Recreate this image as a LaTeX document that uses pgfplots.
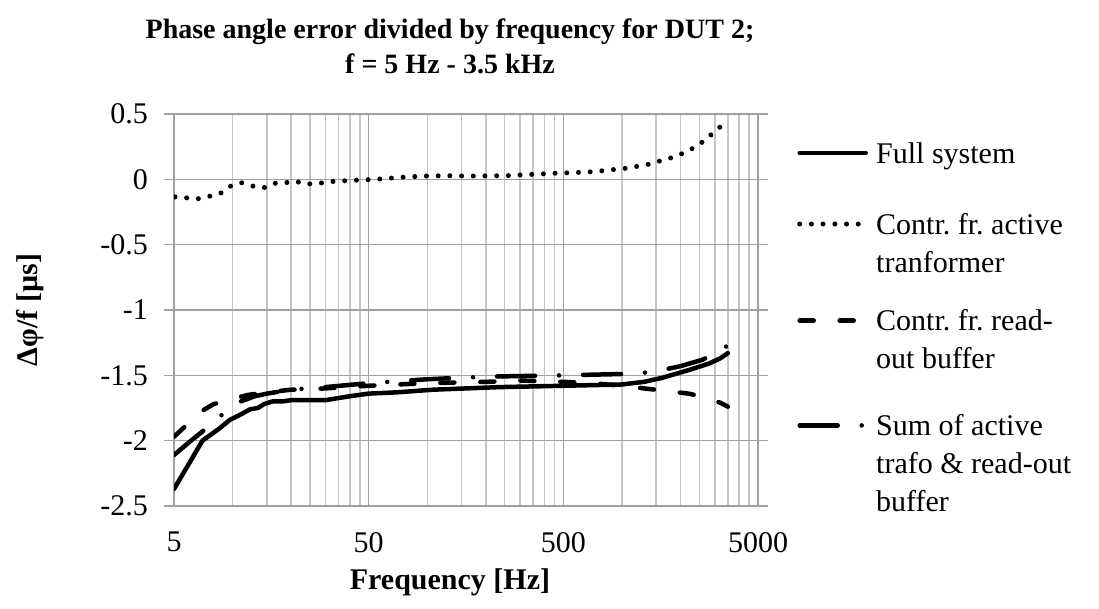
\documentclass[border=0pt]{standalone}
\usepackage{pgfplots}
\usepackage{pgfplotstable}
\pgfplotsset{compat=1.18}
\usepackage{fontspec}
\setmainfont{Liberation Serif}

\definecolor{gridmajor}{RGB}{160,160,160}
\definecolor{gridminor}{RGB}{198,198,198}

% legend samples sit on the first line of each entry
\pgfplotsset{
  legone/.style={legend image code/.code={\path (0pt,0pt); \draw[##1] (2pt,10pt) -- (68pt,10pt);}},
  legtwo/.style={legend image code/.code={\path (0pt,0pt) (0pt,71pt); \draw[##1] (2pt,48pt) -- (68pt,48pt);}},
  legtwob/.style={legend image code/.code={\path (0pt,0pt); \draw[##1] (2pt,48pt) -- (68pt,48pt);}},
  legthree/.style={legend image code/.code={\path (0pt,0pt) (0pt,105pt); \draw[##1] (2pt,86pt) -- (68pt,86pt);}},
}

% Full system
\pgfplotstableread{
f v
5 -2.37
6 -2.17
7 -2.00
8.5 -1.91
9.7 -1.84
11 -1.80
12.3 -1.76
13.5 -1.75
14.5 -1.72
16 -1.70
18 -1.70
20 -1.69
30 -1.69
40 -1.66
50 -1.64
70 -1.63
107 -1.61
237 -1.59
500 -1.58
1000 -1.57
1300 -1.55
1600 -1.52
2200 -1.46
2800 -1.41
3200 -1.37
3500 -1.33
}\fullsys

% Contr. fr. active transformer
\pgfplotstableread{
f v
5.06 -0.135
5.8 -0.142
6.67 -0.148
7.6 -0.130
8.7 -0.105
9.8 -0.051
11.1 -0.026
12.6 -0.051
14.5 -0.064
16.3 -0.031
18.5 -0.028
20.8 -0.013
23.7 -0.036
27.2 -0.033
31.3 -0.018
41 -0.008
54.6 0.000
72 0.015
96 0.025
126 0.028
164 0.025
254 0.028
446 0.046
675 0.056
775 0.064
890 0.074
1021 0.082
1346 0.112
1545 0.138
1762 0.161
1997 0.191
2268 0.230
2553 0.278
2850 0.337
3170 0.396
3475 0.464
}\activetr

% Contr. fr. read-out buffer
\pgfplotstableread{
f v
5 -1.97
6 -1.86
7 -1.77
8 -1.72
10 -1.68
12 -1.65
15 -1.63
20 -1.61
30 -1.60
50 -1.58
100 -1.56
200 -1.55
300 -1.54
500 -1.55
700 -1.56
1000 -1.58
1300 -1.60
1700 -1.62
2200 -1.64
2700 -1.67
3200 -1.71
3500 -1.74
}\readout

% Sum of active trafo & read-out buffer
\pgfplotstableread{
f v
5 -2.11
6 -2.01
7 -1.93
9 -1.79
11 -1.70
13 -1.66
15 -1.64
20 -1.61
30 -1.59
50 -1.56
100 -1.53
200 -1.51
500 -1.50
1000 -1.49
1300 -1.48
1600 -1.46
2000 -1.43
2600 -1.38
3200 -1.31
3500 -1.27
}\sumtr

\begin{document}
\frenchspacing
\fontsize{30}{36}\selectfont
\begin{tikzpicture}
\useasboundingbox (-174pt,-103pt) rectangle (925pt,506pt);
\begin{axis}[
  at={(0pt,0pt)}, anchor=south west,
  scale only axis, width=584pt, height=392pt,
  xmode=log, xmin=5, xmax=5000, ymin=-2.5, ymax=0.5,
  xtick={5,50,500,5000}, xticklabels={5,50,500,5000},
  minor xtick={10,15,20,25,30,35,40,45,100,150,200,250,300,350,400,450,1000,1500,2000,2500,3000,3500,4000,4500},
  ytick={-2.5,-2,-1.5,-1,-0.5,0,0.5},
  yticklabels={-2.5,-2,-1.5,-1,-0.5,0,0.5},
  grid=both,
  major grid style={draw=gridmajor, line width=1.5pt},
  minor grid style={draw=gridminor, line width=1.5pt},
  axis line style={draw=gridmajor, line width=1.5pt},
  tick align=outside, major tick length=10pt,
  xtick style={draw=none}, minor tick style={draw=none},
  ytick style={draw=gridmajor, line width=1.5pt},
  ticklabel style={font=\fontsize{30}{36}\selectfont},
  xticklabel style={yshift=-6pt},
  yticklabel style={xshift=-6pt},
  title={Phase angle error divided by frequency for DUT 2;\\f = 5 Hz - 3.5 kHz},
  title style={at={(axis description cs:0.5,1)}, anchor=center, xshift=-16pt, yshift=62pt,
    align=center, font=\fontsize{28}{35}\selectfont\bfseries},
  xlabel={Frequency [Hz]},
  xlabel style={at={(axis description cs:0.5,0)}, anchor=center, xshift=-16pt, yshift=-76pt,
    font=\fontsize{30}{36}\selectfont\bfseries},
  ylabel={Δφ/f [µs]},
  ylabel style={at={(axis description cs:-0.2466,0.5)}, anchor=center,
    font=\fontsize{30}{36}\selectfont\bfseries},
  legone,
  legend style={at={(axis description cs:1,1)}, anchor=north west, xshift=37pt, yshift=-26pt,
    draw=none, fill=none, inner sep=0pt, row sep=29pt, column sep=6pt,
    font=\fontsize{30}{38}\selectfont,
    cells={anchor=base west, align=left, inner sep=0pt}},
  every axis plot/.append style={line width=4.5pt, line join=round, line cap=round},
]
\addplot[black, legone] table[x=f, y=v] {\fullsys};
\addlegendentry{Full system}
\addplot[black, line width=5pt, dash pattern=on 0pt off 11.7pt, legtwo] table[x=f, y=v] {\activetr};
\addlegendentry{Contr. fr. active\\tranformer}
\addplot[black, dash pattern=on 14pt off 26pt, legtwob] table[x=f, y=v] {\readout};
\addlegendentry{Contr. fr. read-\\out buffer}
\addplot[black, dash pattern=on 38pt off 24pt on 0pt off 24pt, legthree] table[x=f, y=v] {\sumtr};
\addlegendentry{Sum of active\\trafo \& read-out\\buffer}
\end{axis}
\end{tikzpicture}
\end{document}
